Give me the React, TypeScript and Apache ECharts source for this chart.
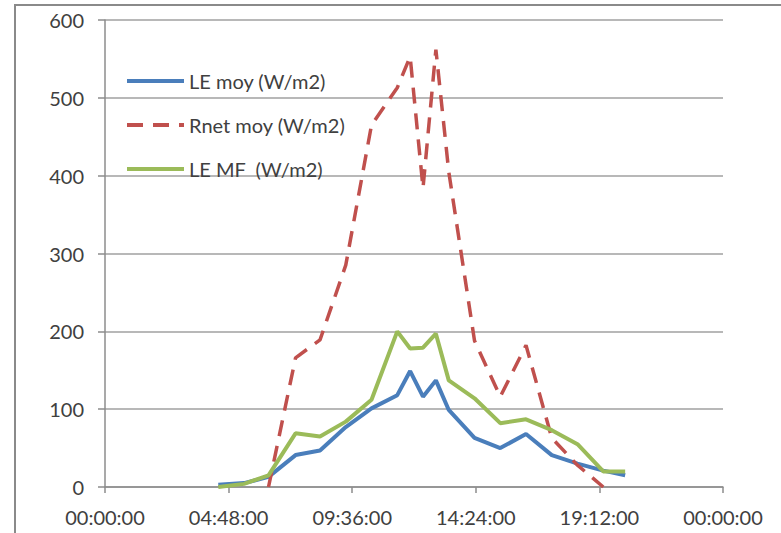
import React, { useEffect, useRef } from "react";
import * as echarts from "echarts";

// Time of day in hours (x axis), values in W/m2
const leTimes = [4.4, 5.4, 6.35, 7.4, 8.35, 9.35, 10.35, 11.35, 11.85, 12.35, 12.85, 13.35, 14.35, 15.35, 16.35, 17.35, 18.35, 19.35, 20.2];
const leMoy = [3, 5, 13, 41, 47, 77, 101, 118, 149, 116, 137, 99, 63, 50, 68, 41, 30, 21, 15];
const leMF = [0, 4, 15, 69, 65, 84, 112, 200, 178, 179, 197, 137, 114, 82, 87, 73, 55, 20, 20];
const rnetTimes = [6.35, 7.4, 8.35, 9.35, 10.35, 11.35, 11.85, 12.35, 12.85, 13.35, 14.35, 15.35, 16.35, 17.35, 18.35, 19.35];
const rnetMoy = [0, 166, 189, 285, 465, 513, 553, 384, 562, 405, 188, 116, 182, 63, 28, 0];

const seriesNames = ["LE moy (W/m2)", "Rnet moy (W/m2)", "LE MF  (W/m2)"];
const yTicks = [0, 100, 200, 300, 400, 500, 600];

const pad = (n: number) => (n < 10 ? "0" + n : "" + n);
const fmtTime = (h: number) => {
  const mins = Math.round(h * 60) % (24 * 60);
  return pad(Math.floor(mins / 60)) + ":" + pad(mins % 60) + ":00";
};

export default function App() {
  const ref = useRef<HTMLDivElement>(null);
  useEffect(() => {
    document.body.style.margin = "0";
    if (!ref.current) return;
    const chart = echarts.init(ref.current, null, { renderer: "svg" });
    const font = "Lato, 'Open Sans', sans-serif";
    const zip = (t: number[], v: number[]) => t.map((x, i) => [x, v[i]]);
    chart.setOption({
      animation: false,
      backgroundColor: "#ffffff",
      textStyle: { fontFamily: font },
      graphic: [
        {
          type: "rect",
          shape: { x: 15, y: 5, width: 900, height: 700 },
          style: { fill: "none", stroke: "#8a8a8a", lineWidth: 2 },
          silent: true,
        },
      ],
      grid: { left: 105, right: 58, top: 20, bottom: 46, containLabel: false },
      legend: {
        orient: "vertical",
        left: 125,
        top: 71,
        padding: 0,
        itemWidth: 57,
        itemHeight: 20,
        itemGap: 24,
        data: seriesNames,
        itemStyle: { opacity: 0 },
        lineStyle: { width: 4 },
        textStyle: { fontSize: 20, color: "#404040", fontFamily: font, lineHeight: 20 },
      },
      xAxis: {
        type: "value",
        min: 0,
        max: 24,
        interval: 4.8,
        axisLine: { show: true, onZero: false, lineStyle: { color: "#8c8c8c", width: 1.5 } },
        axisTick: { show: true, inside: false, length: 6, lineStyle: { color: "#8c8c8c", width: 1.5 } },
        splitLine: { show: false },
        axisLabel: {
          formatter: (v: number) => fmtTime(v),
          fontSize: 20,
          color: "#404040",
          fontFamily: font,
          margin: 20,
          showMinLabel: true,
          showMaxLabel: true,
        },
      },
      yAxis: {
        type: "value",
        min: yTicks[0],
        max: yTicks[yTicks.length - 1],
        interval: 100,
        axisLine: { show: true, lineStyle: { color: "#8c8c8c", width: 1.5 } },
        axisTick: { show: true, length: 7, lineStyle: { color: "#8c8c8c", width: 1.5 } },
        splitLine: { show: true, lineStyle: { color: "#a0a0a0", width: 1.5 } },
        axisLabel: { fontSize: 20, color: "#404040", fontFamily: font, margin: 21 },
      },
      series: [
        {
          name: seriesNames[0],
          type: "line",
          data: zip(leTimes, leMoy),
          symbol: "none",
          clip: true,
          lineStyle: { color: "#4a7ebb", width: 4 },
          itemStyle: { color: "#4a7ebb" },
        },
        {
          name: seriesNames[1],
          type: "line",
          data: zip(rnetTimes, rnetMoy),
          symbol: "none",
          clip: true,
          lineStyle: { color: "#c0504d", width: 3.5, type: [16, 10] },
          itemStyle: { color: "#c0504d" },
        },
        {
          name: seriesNames[2],
          type: "line",
          data: zip(leTimes, leMF),
          symbol: "none",
          clip: true,
          lineStyle: { color: "#9bbb59", width: 4 },
          itemStyle: { color: "#9bbb59" },
        },
      ],
    });
    return () => chart.dispose();
  }, []);
  return <div ref={ref} style={{ position: "absolute", left: 0, top: 0, width: 781, height: 533 }} />;
}
